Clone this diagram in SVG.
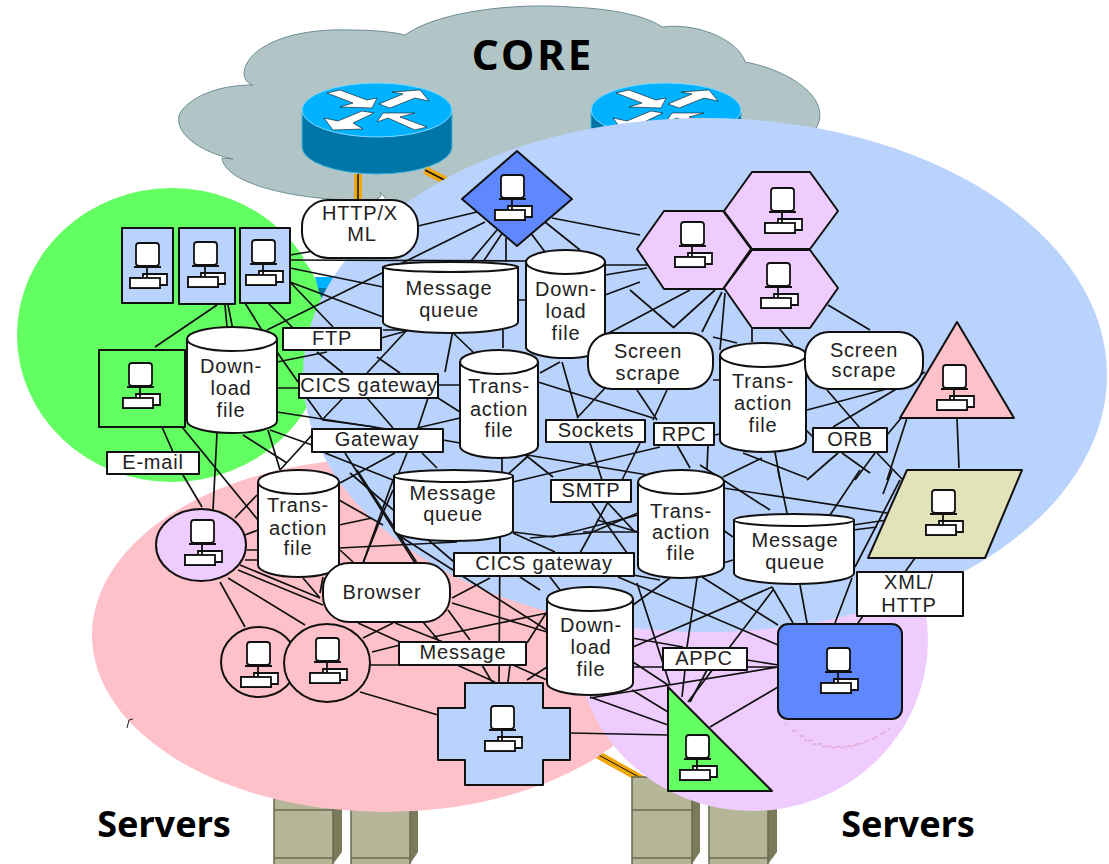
<svg xmlns="http://www.w3.org/2000/svg" xmlns:xlink="http://www.w3.org/1999/xlink" width="1109" height="864" viewBox="0 0 1109 864">
<style>
.n{stroke:#111;stroke-width:2;stroke-linejoin:round}
.w{fill:#fff}
.c{fill:none;stroke:#111;stroke-width:1.7}
text{font-family:"Liberation Sans",Arial,sans-serif;font-size:20px;fill:#222;text-anchor:middle;letter-spacing:.8px}
.h{font-family:"Noto Sans","Open Sans",sans-serif;font-weight:700;fill:#000;letter-spacing:0}
.pc rect,.pc path{fill:#fff;stroke:#111;stroke-width:1.8}
.blue{fill:#b9d3fd}.green{fill:#62fe62}.pink{fill:#fec0c9}.lilac{fill:#eeccfd}.mid{fill:#5f88fe}.khaki{fill:#e3e3b9}
.or{stroke:#f0a80a;stroke-width:8;fill:none}
.srv{fill:#b5b598;stroke:#6a6a50;stroke-width:1.5}
.sd{fill:#7b7b5c}
</style>
<defs>
<g id="pc" class="pc">
<path d="M-4,31H20V42H13V45H-17V35H-4Z"/>
<path d="M0,23V35"/>
<rect x="-17" y="35" width="30" height="10"/>
<path d="M-8,0H9Q12,0 12,3V20Q12,23 9,23H-8Q-11,23 -11,20V3Q-11,0 -8,0ZM-13,24H14"/>
</g>
<g id="router">
<path d="M302,112V147A75,27 0 0 0 452,147V112Z" fill="#0076a8" stroke="#3fb4de" stroke-width="1"/>
<ellipse cx="377" cy="110" rx="75" ry="27" fill="#00b2ff" stroke="#7fd8ff" stroke-width="1"/>
<path fill="#fff" stroke="#111" stroke-width=".6" d="M327,93L340,90L367,100L377,98L372,108L340,107L353,103ZM379,104L403,94L392,92L420,90L429,101L415,98L390,108ZM374,113L353,123L363,129L333,130L324,118L338,121L362,111ZM377,122L383,113L415,113L400,117L427,127L415,130L388,118Z"/>
</g>
</defs>

<g id="backdrop">
<path id="cloud" d="M253,85C240,82 240,62 262,48C285,33 320,29 350,30Q385,30 405,35C440,10 520,3 570,7C620,9 650,18 662,27C700,22 740,42 745,62C790,70 835,100 815,130L700,200L400,215L380,192C385,200 370,201 357,200C300,200 225,185 222,158L233,159C190,150 170,125 182,110C195,95 220,85 253,85Z" fill="#b1c4c6" stroke="#6f8f94" stroke-width="1"/>
<use id="router-1" href="#router" xlink:href="#router"/>
<use id="router-2" href="#router" xlink:href="#router" x="289"/>
<path class="or" d="M358,174V204M425,170L452,184M595,753L650,784"/>
<path d="M358,174V204M425,170L452,184" stroke="#111" stroke-width="1.5" fill="none"/>
<path d="M595,753L650,783" stroke="#111" stroke-width="1" fill="none"/>
<g id="servers">
<path class="sd" d="M333,795H342V852L333,864Z"/><rect class="srv" x="274" y="795" width="59" height="70"/><path class="srv" d="M274,810H333M274,858H333"/>
<path class="sd" d="M410,795H418V852L410,864Z"/><rect class="srv" x="351" y="795" width="59" height="70"/><path class="srv" d="M351,810H410M351,858H410"/>
<path class="sd" d="M692,790H700V852L692,864Z"/><rect class="srv" x="632" y="777" width="60" height="88"/><path class="srv" d="M632,810H692M632,858H692"/>
<path class="sd" d="M768,790H777V852L768,864Z"/><rect class="srv" x="709" y="790" width="59" height="75"/><path class="srv" d="M709,858H768"/>
</g>
<ellipse class="green" cx="172" cy="335" rx="155" ry="147"/>
<ellipse class="pink" cx="385" cy="635" rx="293" ry="177"/>
<ellipse class="lilac" cx="752" cy="640" rx="176" ry="171"/>
<path fill="#fff" d="M302,258H352L330,277H316Z"/>
<path fill="#00b2ff" d="M315,277H338L330,288H318Z"/>
<path fill="#0076a8" d="M318,288H331L323,303Z"/>
<ellipse class="blue" cx="705" cy="375" rx="402" ry="257"/>
<path d="M127,728L129,720L133,719" fill="none" stroke="#222" stroke-width="1"/>
<path d="M785,724Q835,770 895,725M795,730Q835,762 885,732M805,740Q835,755 865,742" fill="none" stroke="#e3a8d0" stroke-width="1.500" stroke-dasharray="1.500 8" stroke-linecap="round"/>
</g>

<g id="connectors" class="c">
<path d="M418,226L477,212M485,222L267,330M497,230L470,262M503,232L483,262M506,238V262M530,232L545,252M545,222L580,250M552,218L640,235"/>
<path d="M290,255L320,250M290,260L526,261M290,268L383,287M290,282L383,317M290,282L333,327"/>
<path d="M217,305L155,347M225,305L227,327M228,305L233,330M245,303L263,332M268,303L293,328"/>
<path d="M277,362L327,352M277,388H299M277,352L298,382M277,412L393,430M270,430L312,445M217,433L213,510M243,435L287,463M268,430L280,470M312,435L280,470"/>
<path d="M162,427L173,452M183,475L202,507M182,427L258,520"/>
<path d="M235,518L257,495M245,535L258,530M247,550H258M245,560H258M240,565L320,598M238,570L323,605M228,578L305,625M220,582L245,627M303,578L320,598M323,577L320,593"/>
<path d="M339,500L383,525M339,525L372,518M339,548L457,542M340,550L353,562M383,513L363,563M393,490L383,513M357,470L417,563M395,533L550,632"/>
<path d="M452,598L490,578M452,603L547,632M448,610L470,640M395,623L443,642M358,623L400,642M393,623L363,638M423,622L440,642M372,652L400,645M370,665H400M360,692L438,715"/>
<path d="M457,665L495,682M482,665L492,682M500,535L499,683M510,665L508,682M513,665L547,680M527,680L547,667M433,637L547,613M527,643L548,610"/>
<path d="M592,503L627,553M608,503L635,532M590,533L638,513M530,538L590,533M638,532L597,520M723,488L887,513M723,530L733,537"/>
<path d="M778,470L787,513M860,470L830,515M892,470L883,494M853,525L887,520M853,530L877,527M855,567L900,480"/>
<path d="M772,587L793,623M800,585L807,623M852,578L835,623M733,560L723,563M772,587L633,647M773,590L688,702"/>
<path d="M697,578L687,647M702,577L778,625M670,578L633,605M618,577L778,645M637,583L670,685M747,660L778,665M632,638L683,647M633,667H778M590,698L778,667M633,662L668,685M632,690L668,712M590,697L668,725M570,733L668,735M685,670L682,697M710,727L778,687M707,670L690,702"/>
<path d="M905,572L915,558M858,623L863,616M560,590L550,577"/>
<path d="M605,265H648M605,275L647,268M605,295L640,282M630,290L673,327M690,290L605,335M715,290L673,328M722,292L702,332M725,293L720,350M713,337L737,343M713,380H720M752,328V342M778,327L793,345M828,305L870,330"/>
<path d="M913,382L807,410M923,373L833,427M902,417L887,435M907,418L887,480M957,418L959,468M827,390L860,428M667,390L653,420M637,390L657,420M806,430L813,437M920,375L925,372"/>
<path d="M838,453L807,480M875,453L855,480M877,453L903,480M842,453L870,473M775,452L780,480M762,458L723,477M743,453L807,478M677,445L690,468M708,445L707,470M714,435L720,434"/>
<path d="M450,330L473,352M453,330L445,372M317,352L343,373M367,373L407,330M400,373L377,357M438,385H460M438,398L460,412M428,398L418,428M367,398L393,428M343,398L322,420M307,398L323,420L375,427"/>
<path d="M381,338L410,330M383,330L407,330M417,428L460,418M443,440L460,443M345,453L415,563M395,453L340,483M407,453L398,475M422,453L437,468M325,453L393,480"/>
<path d="M350,473L467,573M363,563L393,480M502,458V473M527,457L507,475M523,453L553,477M513,482L660,447M540,373L560,362M538,382L653,418M562,362L578,418M605,388L577,418M590,443L602,480M640,443L622,480M527,455L660,477"/>
<path d="M503,330V348M513,533L555,552M513,532L553,537L638,515M583,532H637M500,537V553M580,553L608,502M518,300H526M520,577L540,590M633,575L660,580M605,320L590,335M700,465L770,510"/>
</g>

<g id="n-rect1"><rect class="n blue" x="122" y="228" width="51" height="75"/><use href="#pc" xlink:href="#pc" x="147" y="243"/></g>
<g id="n-rect2"><rect class="n blue" x="179" y="228" width="56" height="76"/><use href="#pc" xlink:href="#pc" x="205" y="242"/></g>
<g id="n-rect3"><rect class="n blue" x="240" y="228" width="50" height="75"/><use href="#pc" xlink:href="#pc" x="263" y="240"/></g>
<g id="n-square"><rect class="n green" x="99" y="350" width="86" height="77"/><use href="#pc" xlink:href="#pc" x="140" y="363"/></g>
<g id="n-diamond"><path class="n mid" d="M517,151L572,199L517,246L462,199Z"/><use href="#pc" xlink:href="#pc" x="512" y="175"/></g>
<g id="n-hex1"><path class="n lilac" d="M752,172H810L838,211L810,249H752L724,211Z"/><use href="#pc" xlink:href="#pc" x="782" y="188"/></g>
<g id="n-hex2"><path class="n lilac" d="M664,211H723L751,249L723,289H664L637,249Z"/><use href="#pc" xlink:href="#pc" x="692" y="222"/></g>
<g id="n-hex3"><path class="n lilac" d="M752,250H810L838,288L810,328H752L724,288Z"/><use href="#pc" xlink:href="#pc" x="778" y="263"/></g>
<g id="n-triangle"><path class="n pink" d="M957,322L1014,418H900Z"/><use href="#pc" xlink:href="#pc" x="954" y="365"/></g>
<g id="n-para"><path class="n khaki" d="M907,470H1022L985,558H868Z"/><use href="#pc" xlink:href="#pc" x="943" y="490"/></g>
<g id="n-rounded"><rect class="n mid" x="778" y="624" width="124" height="95" rx="10"/><use href="#pc" xlink:href="#pc" x="838" y="648"/></g>
<g id="n-rtri"><path class="n green" d="M668,687V791H772Z"/><use href="#pc" xlink:href="#pc" x="697" y="735"/></g>
<g id="n-cross"><path class="n blue" d="M465,683H543V708H570V760H543V785H465V760H438V708H465Z"/><use href="#pc" xlink:href="#pc" x="502" y="706"/></g>
<g id="n-circle1"><ellipse class="n pink" cx="259" cy="662" rx="38" ry="35"/><use href="#pc" xlink:href="#pc" x="258" y="642"/></g>
<g id="n-circle2"><ellipse class="n pink" cx="327" cy="663" rx="43" ry="39"/><use href="#pc" xlink:href="#pc" x="327" y="638"/></g>
<g id="n-circle3"><ellipse class="n lilac" cx="201" cy="545" rx="45" ry="36"/><use href="#pc" xlink:href="#pc" x="202" y="520"/></g>

<g id="n-down1"><path class="n w" d="M187,339V421A45,12 0 0 0 277,421V339Z"/><ellipse class="n w" cx="232" cy="339" rx="45" ry="12"/><text x="231" y="373">Down-</text><text x="231" y="395">load</text><text x="231" y="417">file</text></g>
<g id="n-down2"><path class="n w" d="M526,262V348A40,12 0 0 0 605,348V262Z"/><ellipse class="n w" cx="565.500" cy="262" rx="39.500" ry="12"/><text x="566" y="296">Down-</text><text x="566" y="318">load</text><text x="566" y="340">file</text></g>
<g id="n-down3"><path class="n w" d="M547,599V683A43,12 0 0 0 633,683V599Z"/><ellipse class="n w" cx="590" cy="599" rx="43" ry="12"/><text x="591" y="632">Down-</text><text x="591" y="654">load</text><text x="591" y="676">file</text></g>
<g id="n-trans1"><path class="n w" d="M460,362V446A39,12 0 0 0 538,446V362Z"/><ellipse class="n w" cx="499" cy="362" rx="39" ry="12"/><text x="499" y="393">Trans-</text><text x="499" y="416">action</text><text x="499" y="437">file</text></g>
<g id="n-trans2"><path class="n w" d="M720,355V440A43,12 0 0 0 806,440V355Z"/><ellipse class="n w" cx="763" cy="355" rx="43" ry="12"/><text x="763" y="388">Trans-</text><text x="763" y="410">action</text><text x="763" y="432">file</text></g>
<g id="n-trans3"><path class="n w" d="M638,482V566A43,12 0 0 0 724,566V482Z"/><ellipse class="n w" cx="681" cy="482" rx="43" ry="12"/><text x="681" y="518">Trans-</text><text x="681" y="539">action</text><text x="681" y="560">file</text></g>
<g id="n-trans4"><path class="n w" d="M258,482V565A40.500,12 0 0 0 339,565V482Z"/><ellipse class="n w" cx="298.500" cy="482" rx="40.500" ry="12"/><text x="298" y="512">Trans-</text><text x="298" y="535">action</text><text x="298" y="555">file</text></g>
<g id="n-mq1"><path class="n w" d="M383,267V322A67.500,11 0 0 0 518,322V267Z"/><ellipse class="n w" cx="450.500" cy="267" rx="67.500" ry="5"/><text x="449" y="295">Message</text><text x="449" y="317">queue</text></g>
<g id="n-mq2"><path class="n w" d="M394,476V530A59.500,11 0 0 0 513,530V476Z"/><ellipse class="n w" cx="453.500" cy="476" rx="59.500" ry="6"/><text x="453" y="500">Message</text><text x="453" y="521">queue</text></g>
<g id="n-mq3"><path class="n w" d="M734,520V573A60,11 0 0 0 854,573V520Z"/><ellipse class="n w" cx="794" cy="520" rx="60" ry="6"/><text x="795" y="547">Message</text><text x="795" y="569">queue</text></g>

<g id="n-http"><rect class="n w" x="302" y="200" width="116" height="58" rx="26"/><text x="360" y="220">HTTP/X</text><text x="362" y="241">ML</text></g>
<g id="n-scrape1"><rect class="n w" x="588" y="333" width="125" height="56" rx="24"/><text x="648" y="358">Screen</text><text x="648" y="380">scrape</text></g>
<g id="n-scrape2"><rect class="n w" x="805" y="332" width="118" height="57" rx="24"/><text x="864" y="357">Screen</text><text x="864" y="377">scrape</text></g>
<g id="n-browser"><rect class="n w" x="323" y="563" width="127" height="59" rx="26"/><text x="382" y="599">Browser</text></g>

<g id="n-email"><rect class="n w" x="107" y="452" width="92" height="22"/><text x="153" y="469">E-mail</text></g>
<g id="n-ftp"><rect class="n w" x="283" y="328" width="98" height="22"/><text x="332" y="345">FTP</text></g>
<g id="n-cics1"><rect class="n w" x="299" y="374" width="139" height="24"/><text x="369" y="392">CICS gateway</text></g>
<g id="n-gateway"><rect class="n w" x="312" y="429" width="131" height="23"/><text x="377" y="446">Gateway</text></g>
<g id="n-sockets"><rect class="n w" x="546" y="420" width="99" height="22"/><text x="596" y="437">Sockets</text></g>
<g id="n-rpc"><rect class="n w" x="654" y="423" width="60" height="22"/><text x="684" y="441">RPC</text></g>
<g id="n-orb"><rect class="n w" x="813" y="428" width="74" height="24"/><text x="850" y="446">ORB</text></g>
<g id="n-smtp"><rect class="n w" x="551" y="480" width="80" height="22"/><text x="591" y="497">SMTP</text></g>
<g id="n-cics2"><rect class="n w" x="454" y="553" width="180" height="23"/><text x="544" y="570">CICS gateway</text></g>
<g id="n-xml"><rect class="n w" x="857" y="572" width="106" height="44"/><text x="909" y="589">XML/</text><text x="909" y="612">HTTP</text></g>
<g id="n-appc"><rect class="n w" x="663" y="648" width="84" height="22"/><text x="704" y="665">APPC</text></g>
<g id="n-message"><rect class="n w" x="399" y="642" width="127" height="23"/><text x="463" y="659">Message</text></g>

<g id="labels">
<text class="h" x="533" y="70" style="font-size:42px;letter-spacing:3px">CORE</text>
<text class="h" x="164" y="837" style="font-size:36px">Servers</text>
<text class="h" x="908" y="837" style="font-size:36px">Servers</text>
</g>
</svg>
